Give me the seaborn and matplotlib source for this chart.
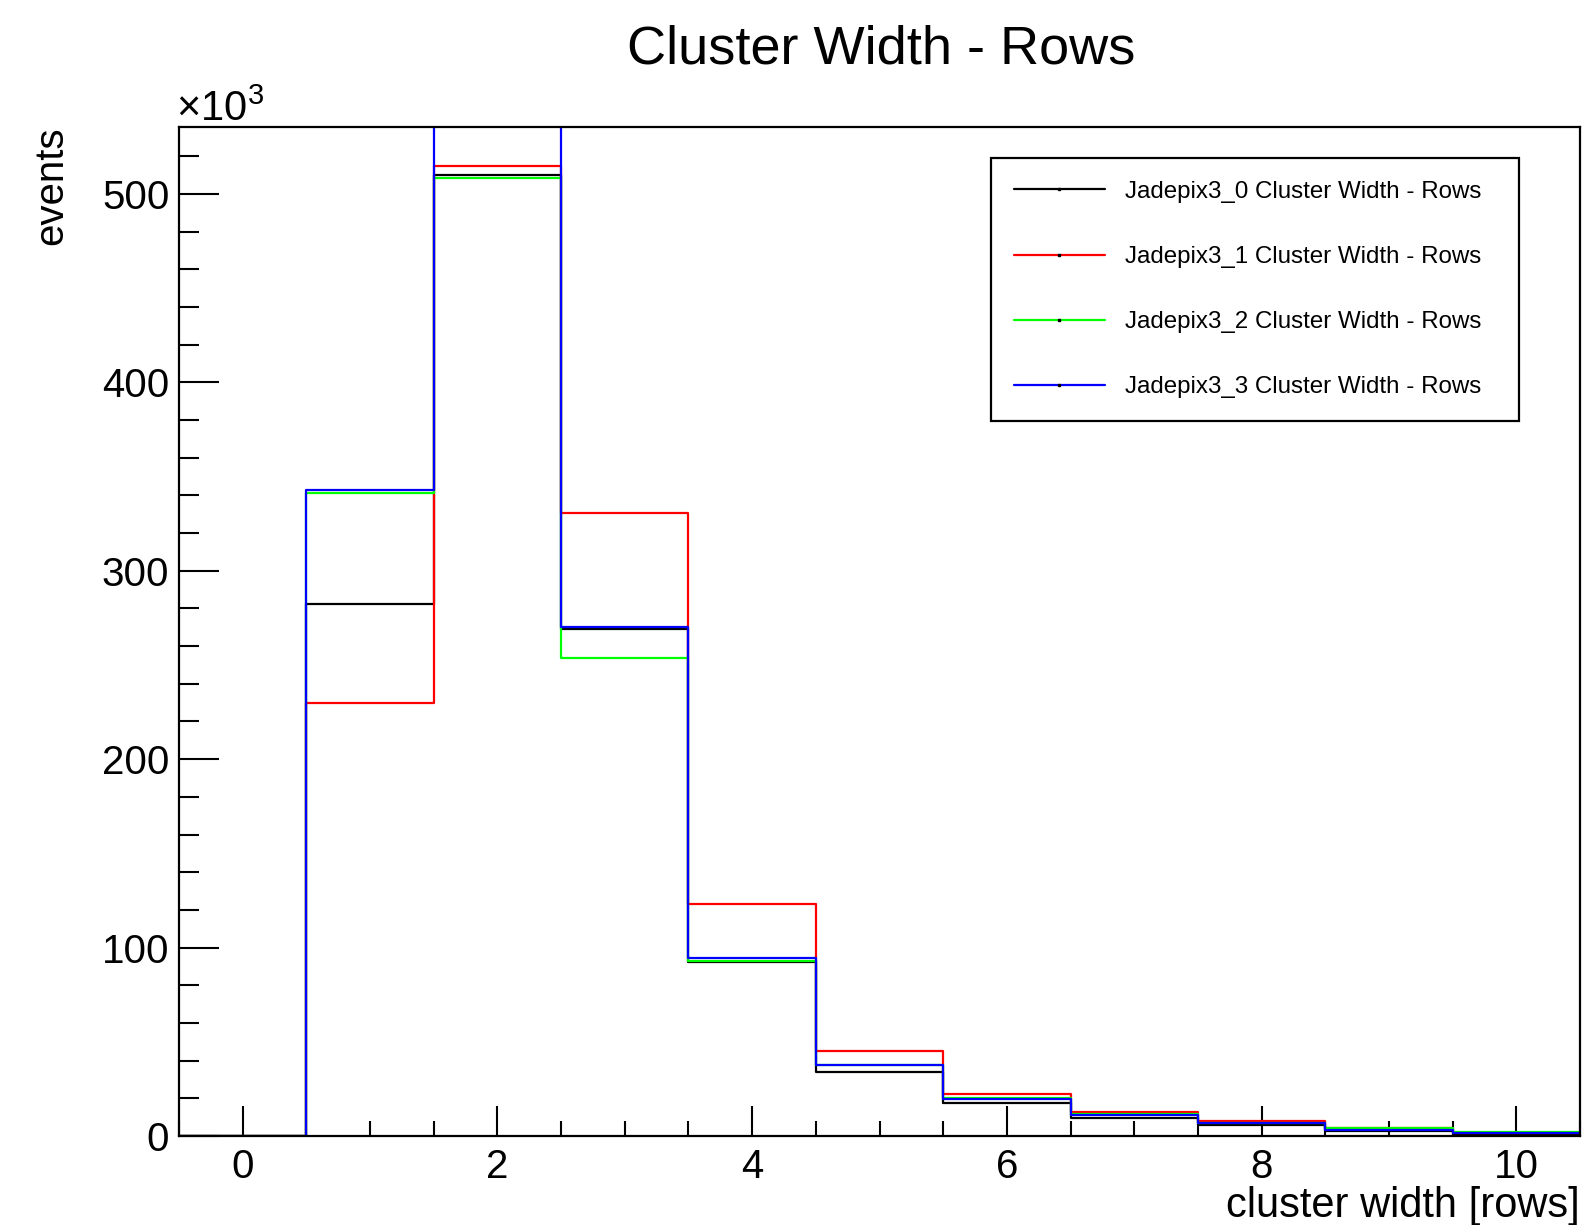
import numpy as np
import pandas as pd
import matplotlib
matplotlib.use("Agg")
import matplotlib.pyplot as plt
from matplotlib.lines import Line2D
from matplotlib.ticker import MultipleLocator
import seaborn as sns

# ---- data (thousands of events per cluster width bin) ----
widths = [0, 1, 2, 3, 4, 5, 6, 7, 8, 9, 10]
jade0 = [0, 282.6, 510.0, 269.3, 92.5, 34.1, 17.6, 9.8, 5.6, 2.8, 1.0]
jade1 = [0, 230.0, 515.0, 330.9, 123.0, 45.1, 22.5, 12.7, 8.1, 4.5, 1.8]
jade2 = [0, 341.5, 508.4, 253.7, 93.0, 37.5, 20.0, 11.5, 7.0, 4.3, 2.1]
jade3 = [0, 342.7, 560.0, 270.2, 94.5, 37.7, 19.7, 11.4, 6.7, 3.2, 1.4]
series_names = ["Jadepix3_0 Cluster Width - Rows", "Jadepix3_1 Cluster Width - Rows",
                "Jadepix3_2 Cluster Width - Rows", "Jadepix3_3 Cluster Width - Rows"]
series_vals = [jade0, jade1, jade2, jade3]
colors = ["#000000", "#ff0000", "#00ff00", "#0000ff"]

sns.set_theme(style="white")
plt.rcParams["font.family"] = ["Liberation Sans", "DejaVu Sans"]
plt.rcParams["text.color"] = "black"
plt.rcParams["axes.labelcolor"] = "black"
plt.rcParams["mathtext.fontset"] = "custom"
plt.rcParams["mathtext.rm"] = "Liberation Sans"
plt.rcParams["mathtext.it"] = "Liberation Sans:italic"
plt.rcParams["mathtext.bf"] = "Liberation Sans:bold"

W, H = 1588, 1225
fig = plt.figure(figsize=(W / 100, H / 100), dpi=100)
ax_l, ax_r, ax_t, ax_b = 179, 1580, 127, 1136
ax = fig.add_axes([ax_l / W, 1 - ax_b / H, (ax_r - ax_l) / W, (ax_b - ax_t) / H])

lw = 1.6
for name, vals, col in zip(series_names, series_vals, colors):
    df = pd.DataFrame({"width": widths, "events": vals})
    sns.histplot(data=df, x="width", weights="events", binwidth=1, binrange=(-0.5, 10.5),
                 element="step", fill=False, color=col, linewidth=lw, ax=ax)

ax.set_xlim(-0.5, 10.5)
ax.set_ylim(0, 535.5)
ax.set_xlabel("")
ax.set_ylabel("")

ax.xaxis.set_major_locator(MultipleLocator(2))
ax.xaxis.set_minor_locator(MultipleLocator(0.5))
ax.yaxis.set_major_locator(MultipleLocator(100))
ax.yaxis.set_minor_locator(MultipleLocator(20))
ax.tick_params(which="both", direction="in", top=False, right=False,
               left=True, bottom=True, colors="black", labelcolor="black", width=1.5)
ax.tick_params(axis="y", which="major", length=29, labelsize=29, pad=7)
ax.tick_params(axis="y", which="minor", length=14.5)
ax.tick_params(axis="x", which="major", length=21.5, labelsize=29, pad=9)
ax.tick_params(axis="x", which="minor", length=11)
for s in ax.spines.values():
    s.set_visible(True)
    s.set_color("black")
    s.set_linewidth(1.6)
ax.grid(False)

# texts
fig.text(881 / W, 1 - 63 / H, "Cluster Width - Rows", ha="center", va="baseline",
         fontsize=39, color="black")
fig.text(1580 / W, 1 - 1217 / H, "cluster width [rows]", ha="right", va="baseline",
         fontsize=30, color="black")
fig.text(51 / W, 1 - 126 / H, "events", rotation=90, ha="center", va="top",
         fontsize=29, color="black")
fig.text(176 / W, 1 - 121 / H, "×10$^{3}$", ha="left", va="baseline", fontsize=30,
         color="black")

# legend
handles = [Line2D([0], [0], color=c, linewidth=lw, marker="s", markersize=2,
                  markerfacecolor="black", markeredgecolor="black") for c in colors]
lx0, lx1, ly0, ly1 = 991, 1519, 158, 422
leg = fig.legend(handles, series_names, loc="upper left",
                 bbox_to_anchor=(lx0 / W, 1 - ly1 / H, (lx1 - lx0) / W, (ly1 - ly0) / H),
                 mode="expand", borderaxespad=0, fontsize=17.4, frameon=True,
                 fancybox=False, framealpha=1, edgecolor="black", numpoints=1,
                 handlelength=3.76, handletextpad=0.83, labelspacing=1.78, borderpad=0.95)
leg.get_frame().set_linewidth(1.6)
for t in leg.get_texts():
    t.set_color("black")

fig.savefig("out.png", dpi=100)
